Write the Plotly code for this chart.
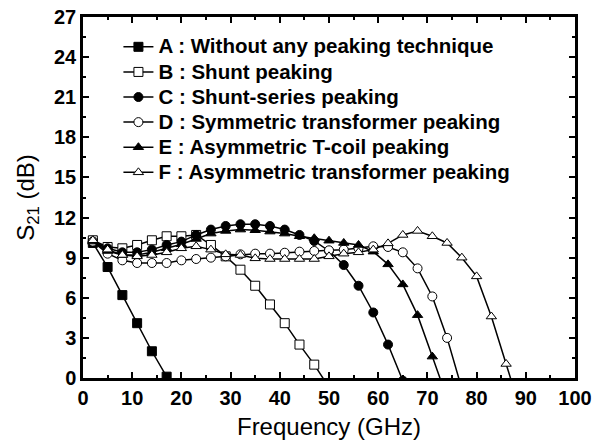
import plotly.graph_objects as go

# Frequency (GHz) and S21 (dB) for each series
names = [
    "A : Without any peaking technique",
    "B : Shunt peaking",
    "C : Shunt-series peaking",
    "D : Symmetric transformer peaking",
    "E : Asymmetric T-coil peaking",
    "F : Asymmetric transformer peaking",
]

a_x = [2, 5, 8, 11, 14, 17]
a_y = [10.1, 8.3, 6.2, 4.1, 2.0, 0.1]

b_x = [2, 5, 8, 11, 14, 17, 20, 23, 26, 29, 32, 35, 38, 41, 44, 47, 50]
b_y = [10.3, 9.8, 9.7, 9.95, 10.3, 10.6, 10.6, 10.7, 9.95, 9.1, 8.1, 6.9, 5.5, 4.1, 2.5, 1.0, -0.7]

c_x = [2, 5, 8, 11, 14, 17, 20, 23, 26, 29, 32, 35, 38, 41, 44, 47, 50, 53, 56, 59, 62, 65]
c_y = [10.2, 9.7, 9.4, 9.4, 9.6, 9.95, 10.2, 10.7, 11.1, 11.37, 11.5, 11.5, 11.37, 11.1, 10.7,
       10.25, 9.5, 8.45, 6.9, 4.9, 2.5, -0.2]

d_x = [2, 5, 8, 11, 14, 17, 20, 23, 26, 29, 32, 35, 38, 41, 44, 47, 50, 53, 56, 59, 62, 65,
       68, 71, 74, 77]
d_y = [10.2, 9.3, 8.8, 8.6, 8.6, 8.6, 8.8, 8.9, 9.0, 9.1, 9.25, 9.3, 9.3, 9.37, 9.45, 9.5,
       9.55, 9.6, 9.7, 9.85, 9.8, 9.4, 8.2, 6.1, 3.0, -0.8]

e_x = [2, 5, 8, 11, 14, 17, 20, 23, 26, 29, 32, 35, 38, 41, 44, 47, 50, 53, 56, 59, 62, 65,
       68, 71, 74]
e_y = [10.2, 9.5, 9.2, 9.2, 9.4, 9.7, 10.0, 10.4, 10.8, 11.0, 11.1, 11.05, 10.95, 10.8, 10.6,
       10.45, 10.27, 10.1, 9.95, 9.45, 8.5, 7.0, 4.7, 1.6, -1.5]

f_x = [2, 5, 8, 11, 14, 17, 20, 23, 26, 29, 32, 35, 38, 41, 44, 47, 50, 53, 56, 59, 62, 65,
       68, 71, 74, 77, 80, 83, 86, 89]
f_y = [10.3, 9.6, 9.2, 9.1, 9.2, 9.4, 9.7, 9.85, 9.6, 9.25, 9.2, 8.95, 8.9, 8.9, 8.9, 8.9,
       9.1, 9.3, 9.4, 9.6, 10.07, 10.7, 11.0, 10.6, 10.1, 9.0, 7.6, 4.6, 1.05, -2.5]

x_ticks = list(range(0, 101, 10))
y_ticks = list(range(0, 28, 3))

series = [
    (a_x, a_y, "square", "black"),
    (b_x, b_y, "square", "white"),
    (c_x, c_y, "circle", "black"),
    (d_x, d_y, "circle", "white"),
    (e_x, e_y, "triangle-up", "black"),
    (f_x, f_y, "triangle-up", "white"),
]

fig = go.Figure()
for name, (xs, ys, sym, fill) in zip(names, series):
    fig.add_trace(go.Scatter(
        x=xs, y=ys, name='<span style="font-size:20.5px">' + name + '</span>',
        mode="lines+markers",
        line=dict(color="black", width=1.5),
        marker=dict(symbol=sym, size=9, color=fill, line=dict(color="black", width=1)),
        cliponaxis=True,
    ))

axis_common = dict(
    showline=True, linecolor="black", linewidth=2.5, mirror="ticks",
    ticks="inside", ticklen=6, tickwidth=2, tickcolor="black",
    showgrid=False, zeroline=False, automargin=False,
    tickfont=dict(family="Liberation Sans", size=20, color="black", weight="bold"),
)

fig.update_xaxes(
    range=[0, 100], tickvals=x_ticks, ticktext=[str(v) for v in x_ticks],
    minor=dict(ticks="inside", ticklen=3, tickwidth=2, tickcolor="black", dtick=5),
    title=dict(text="Frequency (GHz)", font=dict(family="Liberation Sans", size=24, color="black"),
               standoff=11),
    **axis_common,
)
fig.update_yaxes(
    range=[0, 27], tickvals=y_ticks, ticktext=[str(v) for v in y_ticks],
    minor=dict(ticks="inside", ticklen=3, tickwidth=2, tickcolor="black", dtick=1.5),
    title=dict(text="S<sub>21</sub> (dB)", font=dict(family="Liberation Sans", size=24, color="black"),
               standoff=13),
    **axis_common,
)

fig.update_layout(
    width=603, height=444,
    margin=dict(l=83, r=28, t=17, b=66),
    paper_bgcolor="white", plot_bgcolor="white",
    showlegend=True,
    legend=dict(
        x=0.072, y=0.966, xanchor="left", yanchor="top",
        bgcolor="rgba(0,0,0,0)", borderwidth=0,
        font=dict(family="Liberation Sans", size=17, color="black", weight="bold"),
        tracegroupgap=0,
    ),
)

fig.write_html("out.html")
